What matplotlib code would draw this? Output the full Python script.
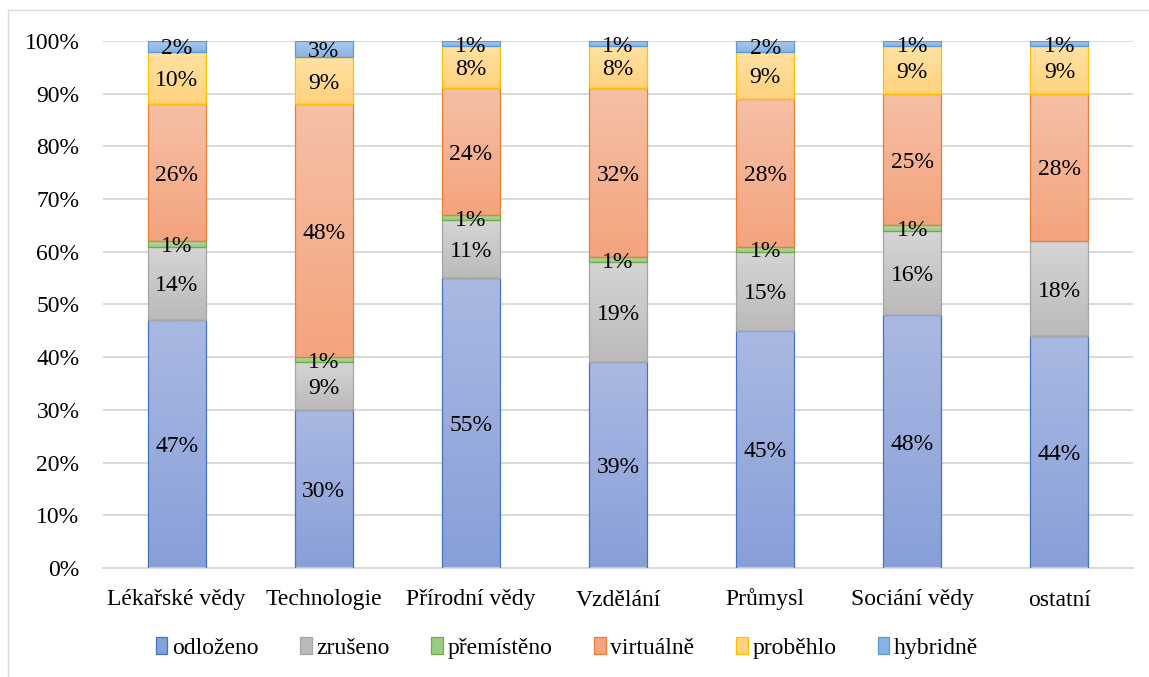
import numpy as np
import matplotlib.pyplot as plt
from matplotlib.colors import to_rgb
from matplotlib.patches import Rectangle
from matplotlib.ticker import PercentFormatter

plt.rcParams['font.family'] = ['Liberation Serif', 'DejaVu Serif']

categories = ['Lékařské vědy', 'Technologie', 'Přírodní vědy', 'Vzdělání',
              'Průmysl', 'Sociání vědy', 'ostatní']
series_names = ['odloženo', 'zrušeno', 'přemístěno', 'virtuálně', 'proběhlo', 'hybridně']

odlozeno = [47, 30, 55, 39, 45, 48, 44]
zruseno = [14, 9, 11, 19, 15, 16, 18]
premisteno = [1, 1, 1, 1, 1, 1, 0]
virtualne = [26, 48, 24, 32, 28, 25, 28]
probehlo = [10, 9, 8, 8, 9, 9, 9]
hybridne = [2, 3, 1, 1, 2, 1, 1]

series = [odlozeno, zruseno, premisteno, virtualne, probehlo, hybridne]

# (top colour, bottom colour, edge)
styles = [
    ('#aab9e2', '#889fd8', '#4472c4'),
    ('#d5d5d5', '#bababa', '#a5a5a5'),
    ('#b8d8a8', '#9ccb86', '#70ad47'),
    ('#f6c0a6', '#f4a47e', '#ed7d31'),
    ('#ffe2a4', '#ffd27e', '#ffc000'),
    ('#abcaeb', '#89b3e2', '#5b9bd5'),
]

FS = 17

fig = plt.figure(figsize=(11.49, 6.77), dpi=100)
ax = fig.add_axes([103 / 1149, 1 - 568 / 677, 1030 / 1149, 527 / 677])

# outer chart frame (left / top visible)
fig.patches.append(Rectangle((8 / 1149, -0.2), 1.2, 1.2 - 10 / 677,
                             transform=fig.transFigure, fill=False,
                             edgecolor='#d9d9d9', linewidth=1.0))

x = np.arange(len(categories))
width = 0.395
bottom = np.zeros(len(categories))

handles = []
for vals, name, (ctop, cbot, edge) in zip(series, series_names, styles):
    vals = np.array(vals, dtype=float)
    bars = ax.bar(x, vals, width, bottom=bottom, facecolor='none',
                  edgecolor=edge, linewidth=0.9, zorder=3, label=name)
    grad = np.linspace(0, 1, 64)[:, None, None]
    img = (1 - grad) * np.array(to_rgb(ctop)) + grad * np.array(to_rgb(cbot))
    for rect, v in zip(bars, vals):
        if v <= 0:
            rect.set_visible(False)
            continue
        x0, y0 = rect.get_x(), rect.get_y()
        w, h = rect.get_width(), rect.get_height()
        ax.imshow(img, extent=(x0, x0 + w, y0, y0 + h), aspect='auto',
                  interpolation='bilinear', zorder=2)
        ax.text(x0 + w / 2, y0 + h / 2, f'{int(v)}%', ha='center', va='center_baseline',
                fontsize=FS, color='black', zorder=4)
    handles.append(Rectangle((0, 0), 1, 1, facecolor=cbot, edgecolor=edge, linewidth=0.9))
    bottom += vals

ax.set_xlim(-0.5, len(categories) - 0.5)
ax.set_ylim(0, 100)
ax.set_yticks(np.arange(0, 101, 10))
ax.yaxis.set_major_formatter(PercentFormatter(decimals=0))
ax.set_xticks(x)
ax.set_xticklabels(categories, va='baseline')
ax.tick_params(axis='both', length=0, labelsize=FS)
ax.tick_params(axis='y', pad=17)
ax.tick_params(axis='x', pad=27)
ax.grid(axis='y', color='#d9d9d9', linewidth=1.4, zorder=0)
ax.set_axisbelow(True)
for s in ['top', 'right', 'left']:
    ax.spines[s].set_visible(False)
ax.spines['bottom'].set_color('#d9d9d9')
ax.spines['bottom'].set_linewidth(1.4)

fig.legend(handles, series_names, loc='center', bbox_to_anchor=(567 / 1149, 1 - 648 / 677),
           ncol=6, frameon=False, fontsize=FS, handlelength=0.5, handleheight=0.75,
           handletextpad=0.2, columnspacing=1.75)

fig.savefig('out.png', dpi=100)
